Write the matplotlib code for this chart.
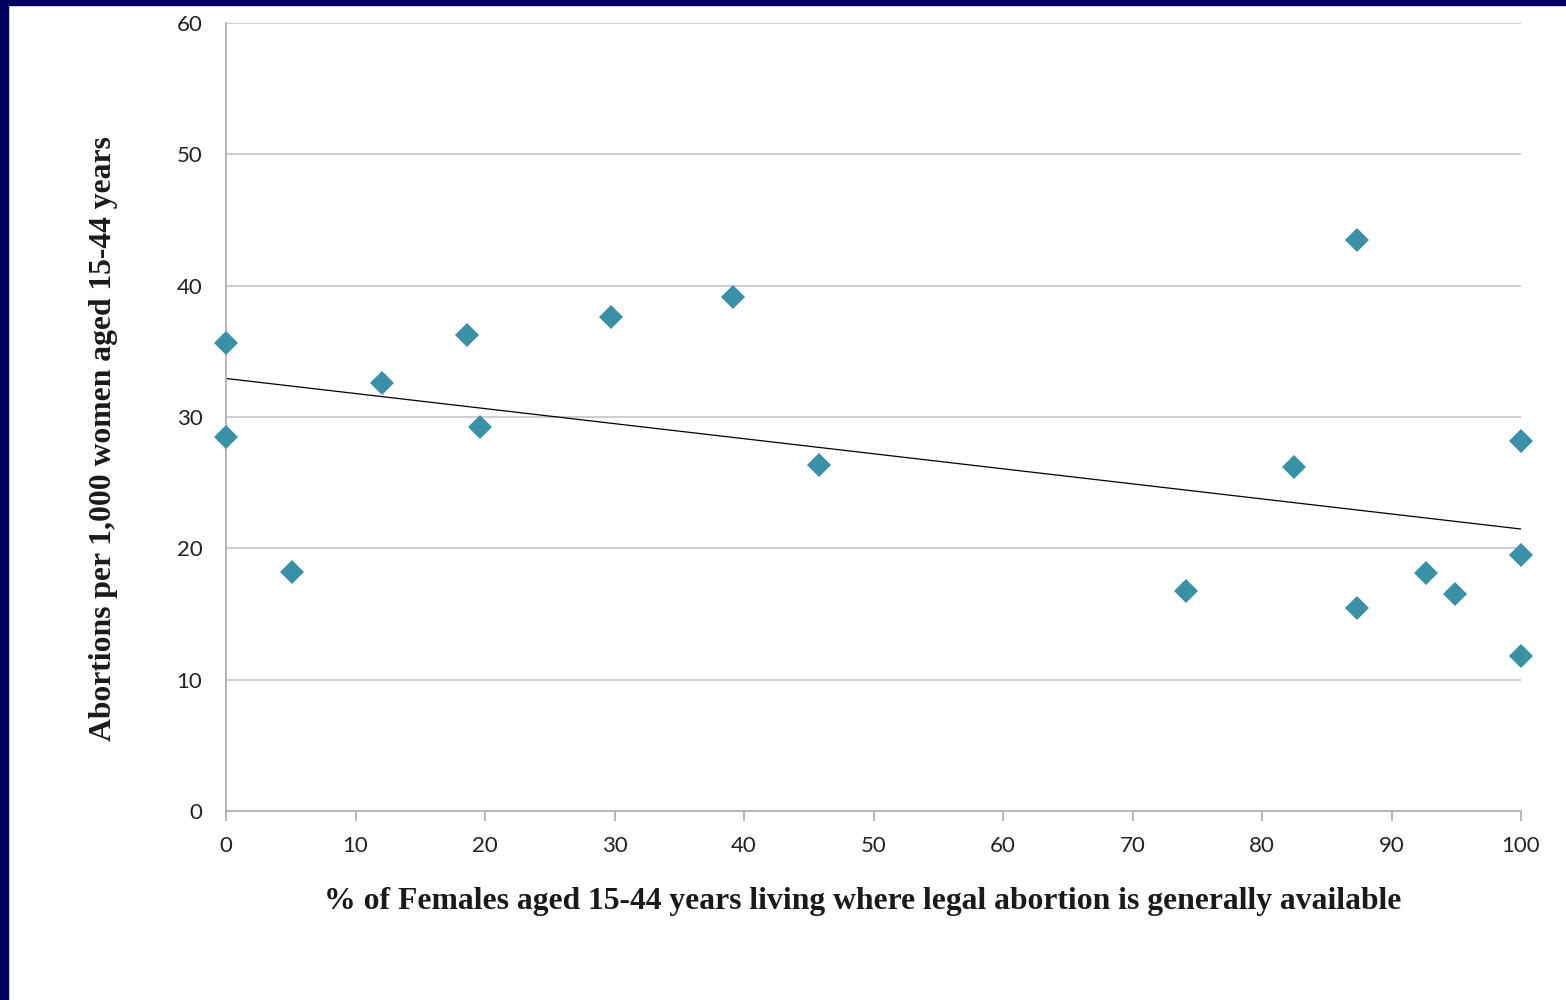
import numpy as np
import matplotlib
matplotlib.use("Agg")
import matplotlib.pyplot as plt
from matplotlib.patches import Rectangle

# --- dados ---
pct_legal = [0, 0, 5.1, 12.05, 18.6, 19.6, 29.7, 39.15, 45.8,
             74.1, 82.5, 87.3, 87.3, 92.7, 94.9, 100, 100, 100]
abortion_rate = [35.6, 28.5, 18.2, 32.6, 36.25, 29.25, 37.6, 39.1, 26.35,
                 16.75, 26.2, 43.5, 15.45, 18.1, 16.5, 28.2, 19.5, 11.8]
x_ticks = [0, 10, 20, 30, 40, 50, 60, 70, 80, 90, 100]
y_ticks = [0, 10, 20, 30, 40, 50, 60]

x_label = "% of Females aged 15-44 years living where legal abortion is generally available"
y_label = "Abortions per 1,000 women aged 15-44 years"

fig = plt.figure(figsize=(15.66, 10), dpi=100)
fig.patch.set_facecolor("white")

# moldura azul escura (esquerda e topo)
fig.patches.append(Rectangle((0, 0), 8 / 1566, 1, transform=fig.transFigure,
                             color="#00005E", zorder=0))
fig.patches.append(Rectangle((0, 1 - 5 / 1000), 1, 5 / 1000, transform=fig.transFigure,
                             color="#00005E", zorder=0))

ax = fig.add_axes([226 / 1566, 189 / 1000, (1521 - 226) / 1566, (811 - 23) / 1000])

ax.set_xlim(0, 100)
ax.set_ylim(0, 60)

# linhas de grade
for y in y_ticks[1:]:
    ax.axhline(y, color="#C0C0C0", lw=1.1, zorder=1)

ax.plot(pct_legal, abortion_rate, linestyle="none", marker="D", markersize=12,
        color="#3A90A6", markeredgewidth=0, zorder=3, clip_on=False)

# linha de tendência (mínimos quadrados)
slope, intercept = np.polyfit(pct_legal, abortion_rate, 1)
xt = np.array([0, 100])
ax.plot(xt, intercept + slope * xt, color="black", lw=0.9, zorder=2)

for side in ["top", "right"]:
    ax.spines[side].set_visible(False)
for side in ["left", "bottom"]:
    ax.spines[side].set_color("#B0B0B0")
    ax.spines[side].set_linewidth(1.3)

ax.set_xticks(x_ticks)
ax.set_yticks(y_ticks)
ax.tick_params(axis="x", direction="out", length=7, width=1.3, color="#B0B0B0",
               pad=11, labelsize=16, labelcolor="#222222")
ax.tick_params(axis="y", length=0, pad=17, labelsize=16, labelcolor="#222222")
for lbl in ax.get_xticklabels() + ax.get_yticklabels():
    lbl.set_family(["Lato", "DejaVu Sans"])

fig.text(863 / 1566, 1 - 902 / 1000, x_label, ha="center", va="center",
         fontsize=22.8, fontweight="bold", family="Liberation Serif", color="#1a1a1a")
fig.text(104 / 1566, 1 - 439 / 1000, y_label, ha="center", va="center", rotation=90,
         fontsize=22.8, fontweight="bold", family="Liberation Serif", color="#1a1a1a")

fig.savefig("out.png", dpi=100)
